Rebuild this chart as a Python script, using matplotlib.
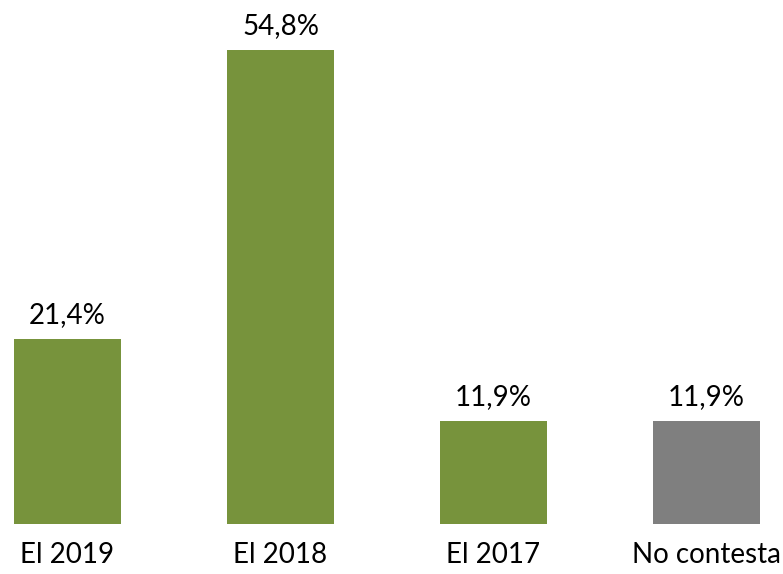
import matplotlib
matplotlib.use("Agg")
import matplotlib.pyplot as plt

categories = ["El 2019", "El 2018", "El 2017", "No contesta"]
values = [21.4, 54.8, 11.9, 11.9]
labels = ["21,4%", "54,8%", "11,9%", "11,9%"]
colors = ["#77933C", "#77933C", "#77933C", "#7F7F7F"]

plt.rcParams['font.family'] = ['Lato', 'DejaVu Sans']
fig = plt.figure(figsize=(7.83, 5.74), dpi=100)
ax = fig.add_axes([0, 50/574, 1, 524/574])
x = list(range(len(categories)))
ax.bar(x, values, width=0.507, color=colors)
ax.set_xlim(-67.5/213, (783-67.5)/213)
ax.set_ylim(0, 54.8*524/474)
for xi, v, lab in zip(x, values, labels):
    ax.annotate(lab, (xi, v), xytext=(0, 8), textcoords='offset points',
                ha='center', va='bottom', fontsize=20, color='black')
ax.set_xticks(x)
ax.set_xticklabels(categories, fontsize=20)
ax.tick_params(axis='x', length=0, pad=13)
ax.set_yticks([])
for s in ax.spines.values():
    s.set_visible(False)
fig.savefig("out.png", dpi=100)
